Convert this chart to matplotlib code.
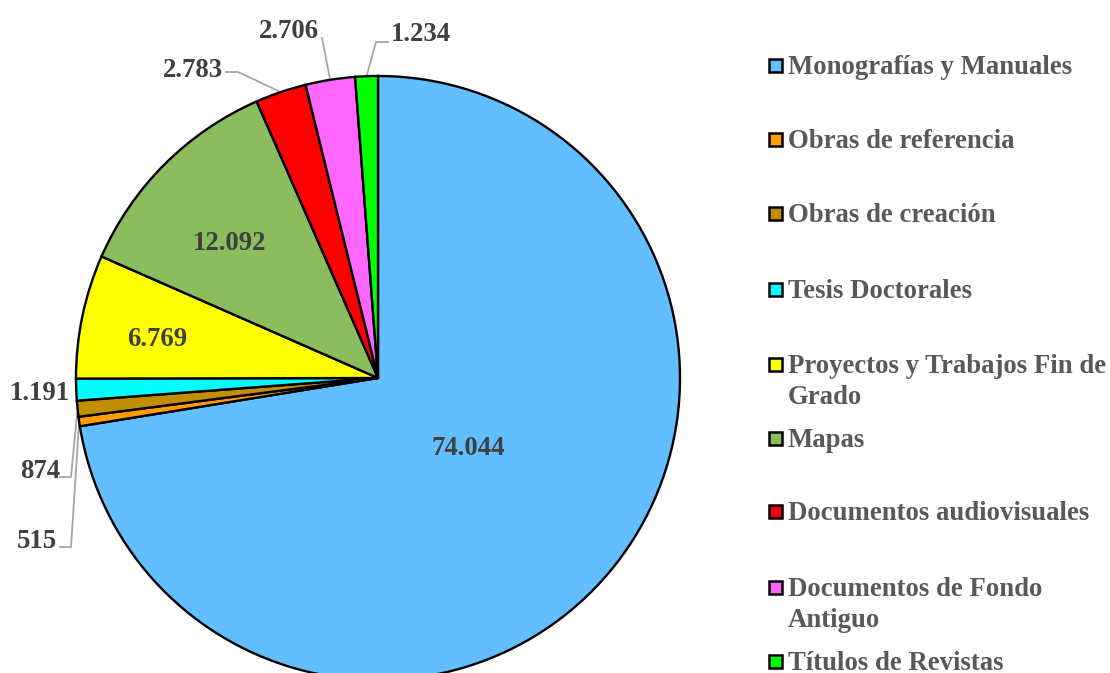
import matplotlib.pyplot as plt
from matplotlib.patches import Rectangle
import numpy as np

categorias = ["Monografías y Manuales", "Obras de referencia", "Obras de creación",
              "Tesis Doctorales", "Proyectos y Trabajos Fin de\nGrado", "Mapas",
              "Documentos audiovisuales", "Documentos de Fondo\nAntiguo", "Títulos de Revistas"]
valores = [74044, 515, 874, 1191, 6769, 12092, 2783, 2706, 1234]
etiquetas = ["74.044", "515", "874", "1.191", "6.769", "12.092", "2.783", "2.706", "1.234"]
colores = ["#63BEFF", "#FF9A00", "#BF8F00", "#00FFFF", "#FFFF00",
           "#8BBD5E", "#FF0000", "#FF66FF", "#00FF00"]

W, H = 1110, 673
CX, CY, R = 378, 378, 302

def px(x, y):
    # pixel (from top-left) -> data coords (pie radius = 1)
    return (x - CX) / R, (CY - y) / R

fig = plt.figure(figsize=(W / 100, H / 100), dpi=100)
ax = fig.add_axes([0, 0, 1, 1])

wedges, _ = ax.pie(valores, colors=colores, startangle=90, counterclock=False,
                   radius=1, center=(0, 0), frame=True,
                   wedgeprops=dict(edgecolor="black", linewidth=1.7))
ax.set_xlim(-CX / R, (W - CX) / R)
ax.set_ylim(-(H - CY) / R, CY / R)
ax.set_aspect("auto")
ax.axis("off")

fuente = dict(family="Liberation Serif", fontweight="bold", fontsize=19.3, color="#404040")

# inside labels
dentro = {0: (468, 449), 5: (230, 244), 4: (157, 340)}
for i, (x, y) in dentro.items():
    ax.text(*px(x, y), etiquetas[i], ha="center", va="center", **fuente)

# outside labels with leader lines
fuera = {
    6: ((193, 71), [(226, 72), (238, 72)]),
    7: ((289, 32), [(322, 38)]),
    8: ((421, 35), [(388, 42), (376, 42)]),
    3: ((40, 394), []),
    2: ((40, 472), [(60, 477), (71, 477)]),
    1: ((37, 542), [(60, 547), (71, 547)]),
}
for i, ((x, y), pts) in fuera.items():
    ax.text(*px(x, y), etiquetas[i], ha="center", va="center", **fuente)
    if pts:
        w = wedges[i]
        ang = np.deg2rad((w.theta1 + w.theta2) / 2)
        edge = (np.cos(ang), np.sin(ang))
        xs = [px(*p)[0] for p in pts] + [edge[0]]
        ys = [px(*p)[1] for p in pts] + [edge[1]]
        ax.plot(xs, ys, color="#A6A6A6", linewidth=1.3, zorder=0.5)

# legend
leg_y = [65, 139, 213, 289, 364, 438, 511, 587, 661]
for cat, col, y in zip(categorias, colores, leg_y):
    fig.patches.append(Rectangle((769 / W, 1 - (y + 7) / H), 13 / W, 13 / H,
                                 transform=fig.transFigure, facecolor=col,
                                 edgecolor="black", linewidth=1.8))
    fig.text(788 / W, 1 - (y - 10) / H, cat, ha="left", va="top",
             linespacing=1.3, family="Liberation Serif", fontweight="bold",
             fontsize=19.3, color="#595959")

fig.savefig("out.png", dpi=100)
